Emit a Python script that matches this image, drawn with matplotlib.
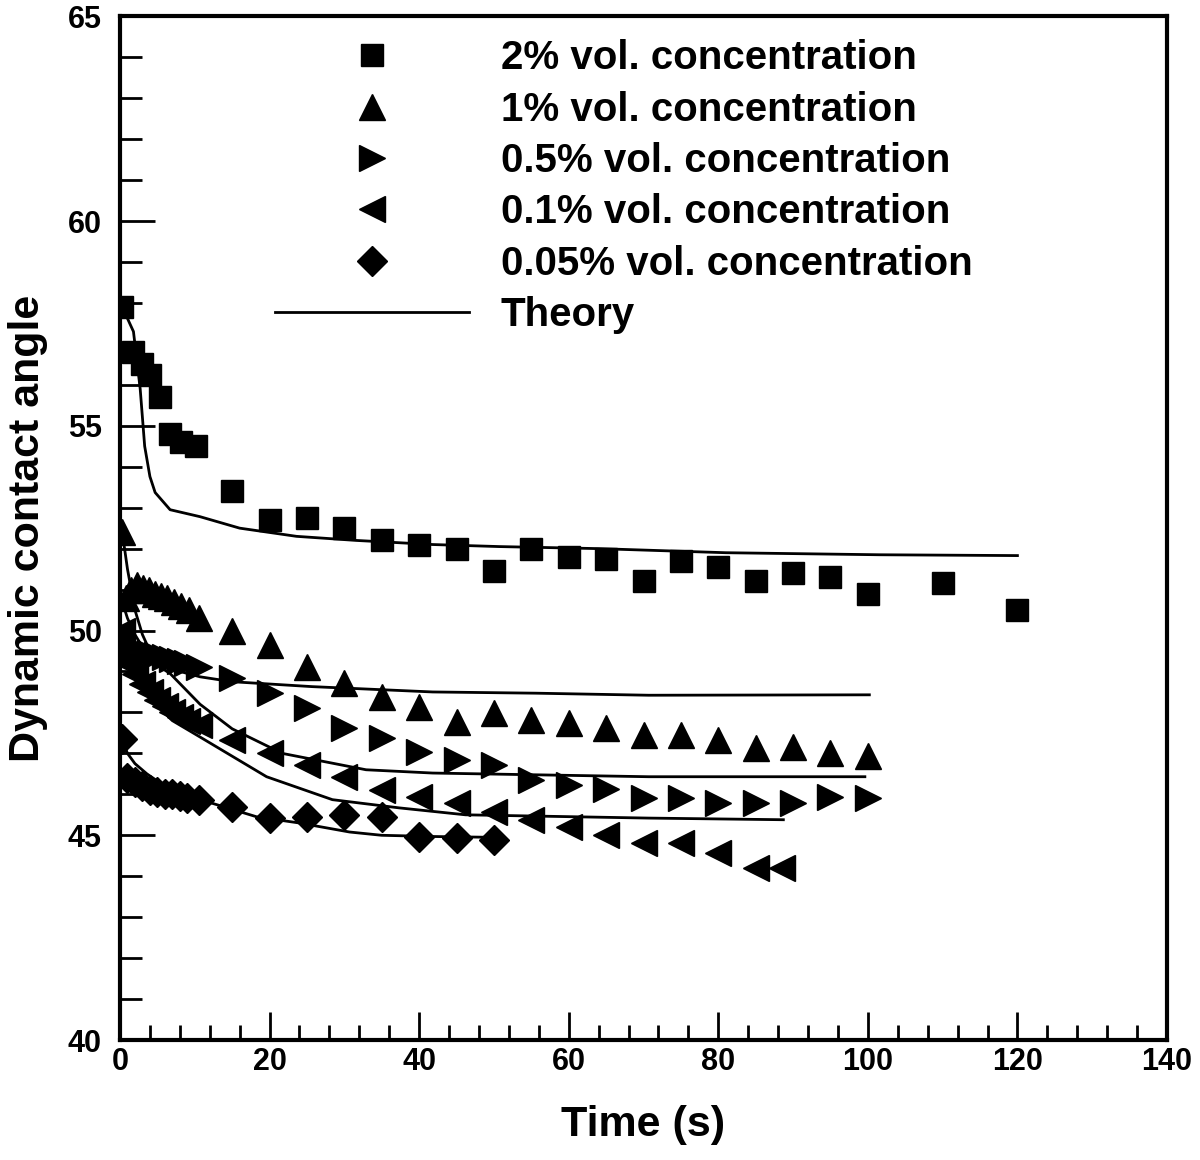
import numpy as np
import matplotlib
matplotlib.use("Agg")
import matplotlib.pyplot as plt

plt.rcParams['font.family'] = ['Liberation Sans', 'DejaVu Sans']
plt.rcParams['font.weight'] = 'bold'

t_2 = [0.3, 1.7, 2.9, 4, 5.3, 6.7, 8.2, 10.2, 15, 20, 25, 30, 35, 40, 45, 50, 55,
       60, 65, 70, 75, 80, 85, 90, 95, 100, 110, 120]
v_2 = [57.9, 56.8, 56.5, 56.25, 55.7, 54.8, 54.6, 54.5, 53.4, 52.7, 52.75, 52.5, 52.2,
       52.1, 52.0, 51.45, 52.0, 51.8, 51.75, 51.2, 51.7, 51.55, 51.2, 51.4, 51.3, 50.9,
       51.15, 50.5]

t_1 = [0.3, 0.8, 1.5, 2.3, 3.1, 3.9, 4.7, 5.5, 6.3, 7.2, 8.2, 9.2, 10.5, 15, 20, 25,
       30, 35, 40, 45, 50, 55, 60, 65, 70, 75, 80, 85, 90, 95, 100]
v_1 = [52.4, 50.8, 51.0, 51.1, 51.05, 51.0, 50.9, 50.85, 50.8, 50.7, 50.6, 50.5, 50.3,
       50.0, 49.65, 49.1, 48.72, 48.38, 48.14, 47.77, 47.99, 47.82, 47.75, 47.62, 47.45,
       47.45, 47.33, 47.13, 47.16, 47.0, 46.94]

t_05 = [0.3, 1, 2, 3, 4, 5, 6, 7, 8, 9, 10.5, 15, 20, 25, 30, 35, 40, 45, 50, 55, 60,
        65, 70, 75, 80, 85, 90, 95, 100]
v_05 = [50.75, 49.6, 49.55, 49.5, 49.45, 49.4, 49.35, 49.3, 49.25, 49.2, 49.1, 48.85,
        48.47, 48.1, 47.62, 47.38, 47.04, 46.84, 46.72, 46.35, 46.23, 46.12, 45.92,
        45.91, 45.79, 45.79, 45.79, 45.94, 45.91]

t_01 = [0.3, 1, 2, 3, 4, 5, 6, 7, 8, 9, 10.5, 15, 20, 25, 30, 35, 40, 45, 50, 55, 60,
        65, 70, 75, 80, 85, 88.5]
v_01 = [50.0, 49.2, 48.95, 48.7, 48.5, 48.3, 48.15, 48.0, 47.9, 47.8, 47.7, 47.33, 47.0,
        46.72, 46.43, 46.1, 45.94, 45.79, 45.58, 45.38, 45.2, 45.0, 44.82, 44.8, 44.56,
        44.2, 44.2]

t_005 = [0.3, 1, 2, 3, 4, 5, 6, 7, 8, 9, 10.5, 15, 20, 25, 30, 35, 40, 45, 50]
v_005 = [47.35, 46.4, 46.3, 46.2, 46.1, 46.05, 46.0, 46.0, 45.95, 45.9, 45.87, 45.7,
         45.42, 45.45, 45.5, 45.45, 44.96, 44.94, 44.89]

# 理论曲线
th_t_2 = [0.3, 1.8, 2.7, 3.3, 4, 4.7, 6.7, 10.7, 16, 23.6, 31.6, 41.8, 50.7, 64, 81,
          101.6, 120]
th_v_2 = [57.9, 57.3, 55.9, 54.5, 53.76, 53.37, 52.95, 52.78, 52.5, 52.3, 52.2, 52.1,
          52.05, 52.0, 51.9, 51.85, 51.83]

th_t_1 = [0.3, 1, 2, 3, 4, 5, 7, 10.7, 15, 25.7, 41.8, 55.6, 70.7, 100.2]
th_v_1 = [52.4, 51.5, 50.5, 49.9, 49.5, 49.3, 49.05, 48.87, 48.75, 48.63, 48.5, 48.47,
          48.42, 48.43]

th_t_05 = [0.3, 1, 2, 3, 4, 5, 6.7, 10.7, 15, 21.7, 32.9, 41.8, 70.7, 99.6]
th_v_05 = [50.7, 50.3, 49.9, 49.6, 49.35, 49.15, 48.95, 48.2, 47.6, 47.0, 46.6, 46.52,
           46.43, 46.43]

th_t_01 = [0.3, 1, 2, 3, 4, 5, 7, 10.7, 19.6, 28.4, 37.3, 46.2, 70.7, 88.7]
th_v_01 = [50.0, 49.4, 48.9, 48.6, 48.35, 48.15, 47.8, 47.4, 46.43, 45.87, 45.67, 45.5,
           45.42, 45.38]

th_t_005 = [0.3, 1, 2, 3.6, 6, 8, 12, 18.3, 24, 30.7, 35, 42, 50]
th_v_005 = [47.33, 47.0, 46.75, 46.5, 46.2, 46.0, 45.8, 45.45, 45.3, 45.08, 45.0, 44.97,
            44.95]

fig = plt.figure(figsize=(12, 11.6), dpi=100)
ax = fig.add_axes([0.1, 0.1034, 0.8725, 0.8826])

# 理论线
ax.plot(th_t_2, th_v_2, color="black", lw=2, label="Theory")
for tt, vv in [(th_t_1, th_v_1), (th_t_05, th_v_05), (th_t_01, th_v_01), (th_t_005, th_v_005)]:
    ax.plot(tt, vv, color="black", lw=2)

# 散点
ax.plot(t_2, v_2, "s", color="black", ms=16, label="2% vol. concentration")
ax.plot(t_1, v_1, "^", color="black", ms=19, label="1% vol. concentration")
ax.plot(t_05, v_05, ">", color="black", ms=19, label="0.5% vol. concentration")
ax.plot(t_01, v_01, "<", color="black", ms=19, label="0.1% vol. concentration")
ax.plot(t_005, v_005, "D", color="black", ms=15, label="0.05% vol. concentration")

ax.set_xlim(0, 140)
ax.set_ylim(40, 65)
ax.set_xticks(np.arange(0, 141, 20))
ax.set_xticks(np.arange(0, 141, 4), minor=True)
ax.set_yticks(np.arange(40, 66, 5))
ax.set_yticks(np.arange(40, 66, 1), minor=True)
ax.tick_params(which="both", direction="in", top=False, right=False, width=2,
               labelsize=22)
ax.tick_params(axis="x", which="major", length=20, pad=5)
ax.tick_params(axis="x", which="minor", length=11)
ax.tick_params(axis="y", which="major", length=25, pad=13)
ax.tick_params(axis="y", which="minor", length=16)
for s in ax.spines.values():
    s.set_linewidth(3)

ax.set_xlabel("Time (s)", fontsize=31, fontweight="bold", labelpad=20)
ax.set_ylabel("Dynamic contact angle", fontsize=31, fontweight="bold", labelpad=14)

# 图例: Theory 放在最后
h, l = ax.get_legend_handles_labels()
order = [1, 2, 3, 4, 5, 0]
ax.legend([h[i] for i in order], [l[i] for i in order], loc="upper left",
          bbox_to_anchor=(0.129, 0.997), frameon=False,
          handlelength=4.8, handletextpad=0.8, labelspacing=0.33, borderpad=0,
          prop={"weight": "bold", "size": 29})

plt.savefig("out.png", dpi=100)
